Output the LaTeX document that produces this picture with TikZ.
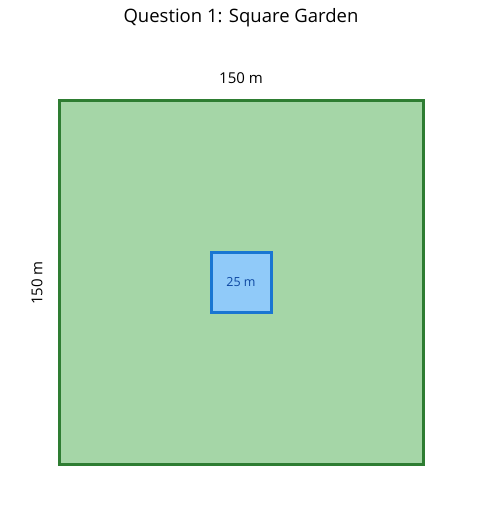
\documentclass[tikz,border=0pt]{standalone}
\usepackage{fontspec}
\setmainfont{Open Sans}
\definecolor{gfill}{HTML}{A5D6A7}
\definecolor{gline}{HTML}{2E7D32}
\definecolor{bfill}{HTML}{90CAF9}
\definecolor{bline}{HTML}{1976D2}
\definecolor{btext}{HTML}{0D47A1}
\begin{document}
\begin{tikzpicture}[x=1pt,y=-1pt,
  garden/.style={draw=gline,fill=gfill,line width=3pt},
  pond/.style={draw=bline,fill=bfill,line width=3pt},
  lbl/.style={font=\fontsize{15}{18}\selectfont,text=black,inner sep=0pt}]
\useasboundingbox (0,0) rectangle (481,523);
\draw[garden] (59,100) rectangle (423,464);
\draw[pond] (211,252) rectangle (271,312);
\node[inner sep=0pt,font=\fontsize{18.5}{22}\selectfont] (title) at (241,18) {Question 1: Square Garden};
\node[lbl] (top) at (241,78) {150 m};
\node[lbl,rotate=90] (left) at (37,283) {150 m};
\node[inner sep=0pt,text=btext,font=\fontsize{12.5}{15}\selectfont] (inner) at (241,282) {25 m};
\end{tikzpicture}
\end{document}
